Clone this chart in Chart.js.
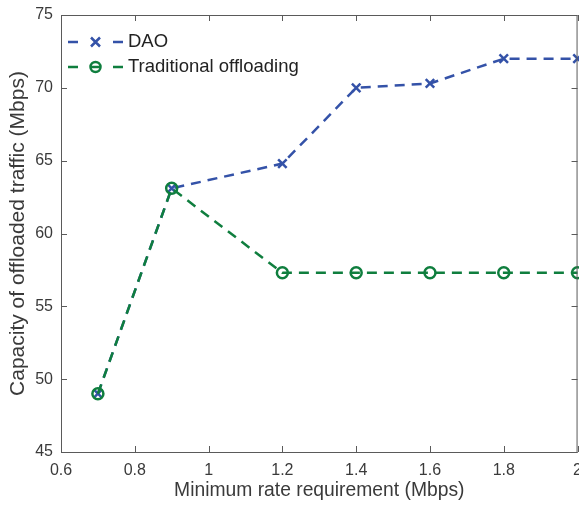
<!DOCTYPE html>
<html>
<head>
<meta charset="utf-8">
<script src="https://cdn.jsdelivr.net/npm/chart.js@4/dist/chart.umd.min.js"></script>
<style>
  html, body { margin: 0; padding: 0; background: #fff; overflow: hidden; }
  #wrap { width: 579px; height: 506px; overflow: hidden; }
</style>
</head>
<body>
<div id="wrap"><canvas id="chart" width="591" height="506"></canvas></div>
<script>
// data
const rates = [0.7, 0.9, 1.2, 1.4, 1.6, 1.8, 2.0];
const daoCapacity = [49, 63.1, 64.8, 70, 70.3, 72, 72];
const traditionalCapacity = [49, 63.1, 57.3, 57.3, 57.3, 57.3, 57.3];
const xTicks = [0.6, 0.8, 1, 1.2, 1.4, 1.6, 1.8, 2];
const yTicks = [45, 50, 55, 60, 65, 70, 75];

const BLUE = '#3452a8';
const GREEN = '#0f7e3e';
const FONT = '"Liberation Sans", Arial, sans-serif';
const TEXT = '#3a3a3a';
const AXIS = '#5a5a5a';

const toPoints = ys => rates.map((x, i) => ({ x, y: ys[i] }));

// box around the axes with inward ticks on all four sides (MATLAB style)
const boxPlugin = {
  id: 'box',
  afterDatasetsDraw(chart) {
    const { ctx, chartArea: a, scales } = chart;
    ctx.save();
    ctx.strokeStyle = AXIS;
    ctx.lineWidth = 1;
    ctx.strokeRect(a.left + 0.5, a.top + 0.5, a.right - a.left - 1, a.bottom - a.top);
    const len = 6;
    ctx.beginPath();
    xTicks.forEach(v => {
      const px = Math.round(scales.x.getPixelForValue(v)) + 0.5;
      ctx.moveTo(px, a.bottom); ctx.lineTo(px, a.bottom - len);
      ctx.moveTo(px, a.top); ctx.lineTo(px, a.top + len);
    });
    yTicks.forEach(v => {
      const py = Math.round(scales.y.getPixelForValue(v)) + 0.5;
      ctx.moveTo(a.left, py); ctx.lineTo(a.left + len, py);
      ctx.moveTo(a.right, py); ctx.lineTo(a.right - len, py);
    });
    ctx.stroke();
    ctx.restore();
  }
};

// legend drawn inside the top-left of the plot
const legendPlugin = {
  id: 'insideLegend',
  afterDraw(chart) {
    const { ctx, chartArea: a } = chart;
    ctx.save();
    ctx.font = '18.5px ' + FONT;
    ctx.textBaseline = 'middle';
    chart.data.datasets.forEach((ds, i) => {
      const y = a.top + 27 + i * 25;
      const x0 = a.left + 7;
      ctx.strokeStyle = ds.borderColor;
      ctx.lineWidth = 2.5;
      ctx.setLineDash([]);
      ctx.beginPath();
      ctx.moveTo(x0, y); ctx.lineTo(x0 + 10, y);
      ctx.moveTo(x0 + 45, y); ctx.lineTo(x0 + 55, y);
      ctx.stroke();
      const mx = x0 + 27.5;
      if (ds.pointStyle === 'crossRot') {
        ctx.beginPath();
        ctx.moveTo(mx - 4.5, y - 4.5); ctx.lineTo(mx + 4.5, y + 4.5);
        ctx.moveTo(mx + 4.5, y - 4.5); ctx.lineTo(mx - 4.5, y + 4.5);
        ctx.stroke();
      } else {
        ctx.beginPath();
        ctx.arc(mx, y, 5, 0, Math.PI * 2);
        ctx.stroke();
        ctx.beginPath();
        ctx.moveTo(mx - 5, y); ctx.lineTo(mx + 5, y);
        ctx.stroke();
      }
      ctx.fillStyle = '#222';
      ctx.fillText(ds.label, x0 + 60, y);
    });
    ctx.restore();
  }
};

new Chart(document.getElementById('chart'), {
  type: 'line',
  data: {
    datasets: [
      {
        label: 'DAO',
        data: toPoints(daoCapacity),
        order: 1,
        borderColor: BLUE,
        borderWidth: 2.5,
        borderDash: [10, 7],
        pointStyle: 'crossRot',
        pointRadius: 6,
        pointBorderWidth: 2.5,
        pointBorderColor: BLUE,
        pointBackgroundColor: BLUE,
        fill: false,
        tension: 0
      },
      {
        label: 'Traditional offloading',
        data: toPoints(traditionalCapacity),
        order: 0,
        borderColor: GREEN,
        borderWidth: 2.5,
        borderDash: [10, 7],
        pointStyle: 'circle',
        pointRadius: 5.5,
        pointBorderWidth: 2.5,
        pointBorderColor: GREEN,
        pointBackgroundColor: 'rgba(0,0,0,0)',
        fill: false,
        tension: 0
      }
    ]
  },
  options: {
    responsive: false,
    animation: false,
    clip: false,
    layout: { padding: { top: 15, right: 0, left: 0, bottom: 0 } },
    plugins: { legend: { display: false }, tooltip: { enabled: false } },
    scales: {
      x: {
        type: 'linear',
        min: 0.6,
        max: 2,
        afterBuildTicks: s => { s.ticks = xTicks.map(v => ({ value: v })); },
        afterFit: s => { s.height = 54; },
        grid: { display: false, drawTicks: false },
        border: { display: false },
        ticks: {
          color: TEXT,
          font: { family: FONT, size: 16 },
          padding: 9,
          maxRotation: 0,
          autoSkip: false,
          callback: v => String(Math.round(v * 10) / 10)
        },
        title: {
          display: true,
          text: 'Minimum rate requirement (Mbps)',
          color: TEXT,
          font: { family: FONT, size: 19.3 },
          padding: { top: 0, bottom: 4 }
        }
      },
      y: {
        min: 45,
        max: 75,
        afterBuildTicks: s => { s.ticks = yTicks.map(v => ({ value: v })); },
        afterFit: s => { s.width = 61; s.paddingTop = 0; s.paddingBottom = 0; },
        grid: { display: false, drawTicks: false },
        border: { display: false },
        ticks: {
          color: TEXT,
          font: { family: FONT, size: 16 },
          padding: 8
        },
        title: {
          display: true,
          text: 'Capacity of offloaded traffic (Mbps)',
          color: TEXT,
          font: { family: FONT, size: 21 },
          padding: { top: 6, bottom: 0 }
        }
      }
    }
  },
  plugins: [boxPlugin, legendPlugin]
});
</script>
</body>
</html>
